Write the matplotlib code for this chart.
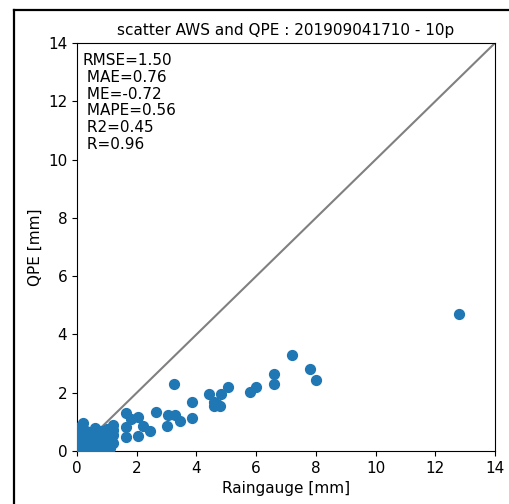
import numpy as np
import matplotlib
matplotlib.use("Agg")
from matplotlib import pyplot as plt
from matplotlib.lines import Line2D

# rain gauge (x) vs QPE (y), in mm
gauge = [12.8, 7.2, 7.8, 8.0, 6.6, 6.6, 5.8, 6.0, 5.05, 4.82, 4.42,
         4.6, 4.8, 4.6, 4.7, 3.86, 3.86, 3.25, 3.28, 3.06, 3.45, 3.02,
         2.63, 2.44, 2.2, 2.05, 2.05, 1.63, 1.8, 1.63, 1.63,
         1.22, 1.22, 1.22, 1.22, 1.1, 1.0, 1.0, 1.0, 0.9, 0.9,
         0.8, 0.8, 0.8, 0.7, 0.7, 0.6, 0.6, 0.6, 0.5, 0.5, 0.4, 0.4,
         0.3, 0.3, 0.3, 0.2, 0.2, 0.2, 0.15, 0.1, 0.1, 0.1, 0.05, 0.0]
qpe = [4.7, 3.3, 2.8, 2.45, 2.65, 2.3, 2.04, 2.2, 2.21, 1.95, 1.95,
       1.55, 1.55, 1.7, 1.6, 1.69, 1.14, 2.29, 1.24, 1.24, 1.04, 0.87,
       1.33, 0.7, 0.87, 1.18, 0.52, 1.29, 1.1, 0.84, 0.49,
       0.89, 0.72, 0.55, 0.27, 0.1, 0.2, 0.4, 0.75, 0.55, 0.3,
       0.7, 0.4, 0.1, 0.35, 0.6, 0.8, 0.5, 0.15, 0.3, 0.0, 0.55, 0.2,
       0.1, 0.7, 0.35, 0.98, 0.2, 0.45, 0.85, 0.05, 0.3, 0.6, 0.1, 0.0]

stats = ["RMSE=1.50", " MAE=0.76", " ME=-0.72", " MAPE=0.56", " R2=0.45", " R=0.96"]
ticks = [0, 2, 4, 6, 8, 10, 12, 14]

plt.rcParams["font.size"] = 11

fig = plt.figure(figsize=(5.1, 5.04), dpi=100)
ax = fig.add_axes([0.151, 0.105, 0.8196, 0.8097])

ax.scatter(gauge, qpe, s=50, color="#1f77b4", zorder=3)
ax.plot([0, 14], [0, 14], color="gray", lw=1.5, zorder=2)

ax.set_xlim(0, 14)
ax.set_ylim(0, 14)
ax.set_xticks(ticks)
ax.set_yticks(ticks)
ax.set_xlabel("Raingauge [mm]")
ax.set_ylabel("QPE [mm]")
ax.set_title("scatter AWS and QPE : 201909041710 - 10p", fontsize=11)
ax.text(0.012, 0.975, "\n".join(stats), transform=ax.transAxes,
        va="top", ha="left", fontsize=11, linespacing=1.14)

# black frame (top and left edges) of the screenshot
fx = 14.5 / 510
fy = (504 - 9.5) / 504
fig.add_artist(Line2D([fx, 1.1], [fy, fy], transform=fig.transFigure,
                      color="black", lw=1.6))
fig.add_artist(Line2D([fx, fx], [-0.1, fy], transform=fig.transFigure,
                      color="black", lw=1.6))

fig.savefig("out.png", dpi=100)
